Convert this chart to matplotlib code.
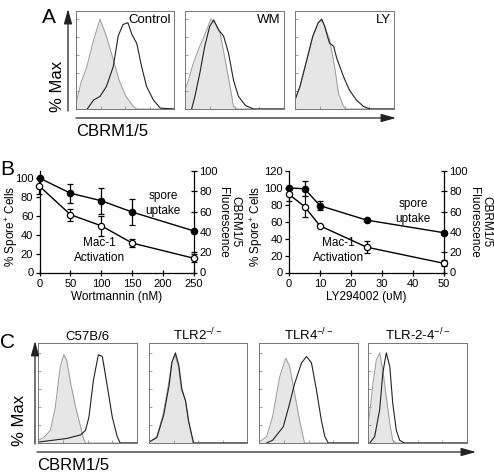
import matplotlib.pyplot as plt

plt.rcParams['font.family'] = ['Liberation Sans', 'DejaVu Sans']
plt.rcParams['mathtext.fontset'] = 'custom'
plt.rcParams['mathtext.rm'] = 'Liberation Sans'
plt.rcParams['mathtext.it'] = 'Liberation Sans:italic'
plt.rcParams['mathtext.bf'] = 'Liberation Sans:bold'

W, H = 494, 476

# --- panel A: histograms (x = fraction of plot width, y = % of max) ---
ctrl_iso_x = [0, .05, .11, .18, .245, .31, .38, .44, .51, .585, .62, 1]
ctrl_iso_y = [6, 29, 47, 77, 100, 81, 55, 32, 14, 3, 0, 0]
ctrl_cbr_x = [.115, .18, .245, .31, .38, .43, .48, .53, .57, .62, .67, .72, .79, .86, 1]
ctrl_cbr_y = [0, 10, 14, 25, 47, 81, 94, 96, 83, 73, 47, 25, 10, 1, 0]
wm_iso_x = [0, .034, .084, .15, .22, .26, .30, .355, .40, .455, .49, .52, 1]
wm_iso_y = [21, 32, 51, 70, 88, 100, 96, 84, 58, 25, 3, 0, 0]
wm_cbr_x = [.067, .10, .15, .20, .25, .29, .34, .39, .44, .49, .54, .61, .69, 1]
wm_cbr_y = [0, 14, 40, 70, 92, 99, 88, 81, 62, 32, 14, 4, 0, 0]
ly_iso_x = [0, .05, .12, .18, .235, .27, .30, .35, .40, .44, .49, .52, 1]
ly_iso_y = [10, 25, 55, 81, 96, 99, 92, 77, 47, 17, 3, 0, 0]
ly_cbr_x = [0, .05, .12, .18, .235, .27, .30, .33, .35, .39, .42, .49, .55, .62, .69, .755, 1]
ly_cbr_y = [10, 25, 55, 81, 96, 100, 92, 80, 73, 70, 57, 36, 21, 10, 3, 0, 0]
a_titles = ['Control', 'WM', 'LY']

# --- panel B: dose responses ---
wm_dose = [0, 50, 100, 150, 250]
wm_spore = [100, 84, 76, 64, 44]
wm_spore_err = [0, 10, 14, 14, 0]
wm_mac1 = [85, 57, 46, 29, 14]
wm_mac1_err = [8, 6, 10, 4, 4]
ly_dose = [0, 5, 10, 25, 50]
ly_spore = [100, 99, 79, 62, 47]
ly_spore_err = [0, 9, 5, 0, 0]
ly_mac1 = [77, 65, 46, 25, 9]
ly_mac1_err = [7, 10, 0, 6, 3]

# --- panel C: histograms ---
b6_iso_x = [0, .057, .125, .175, .225, .26, .29, .33, .38, .43, .46, .48, 1]
b6_iso_y = [3, 6, 14, 40, 85, 98, 92, 66, 40, 18, 5, 0, 0]
b6_cbr_x = [0, .29, .43, .48, .515, .56, .61, .65, .70, .75, .80, .83, 1]
b6_cbr_y = [1, 5, 9, 14, 29, 70, 98, 96, 63, 29, 7, 0, 0]
tlr2_iso_x = [0, .08, .146, .20, .23, .265, .30, .33, .37, .40, .45, 1]
tlr2_iso_y = [1, 7, 33, 66, 89, 98, 85, 59, 48, 25, 0, 0]
tlr2_cbr_x = [0, .08, .15, .205, .235, .27, .305, .335, .375, .405, .455, 1]
tlr2_cbr_y = [1, 6, 31, 64, 90, 100, 86, 60, 46, 24, 0, 0]
tlr4_iso_x = [0, .077, .137, .21, .27, .31, .36, .41, .46, 1]
tlr4_iso_y = [1, 7, 29, 74, 94, 85, 55, 25, 0, 0]
tlr4_cbr_x = [.077, .137, .245, .31, .36, .43, .48, .53, .58, .63, .665, .70, 1]
tlr4_cbr_y = [0, 3, 18, 44, 66, 89, 96, 89, 59, 25, 7, 0, 0]
tlr24_iso_x = [0, .017, .05, .084, .118, .15, .185, .22, .25, .286, 1]
tlr24_iso_y = [22, 33, 66, 92, 100, 81, 51, 22, 3, 0, 0]
tlr24_cbr_x = [.017, .067, .118, .15, .185, .22, .25, .286, .32, .37, 1]
tlr24_cbr_y = [0, 7, 37, 78, 100, 85, 44, 14, 3, 0, 0]
c_titles = ['C57B/6', r'TLR2$^{\mathregular{-/-}}$', r'TLR4$^{\mathregular{-/-}}$',
            r'TLR-2-4$^{\mathregular{-/-}}$']

fig = plt.figure(figsize=(W / 100, H / 100), dpi=100)


def px_axes(x0, y0, x1, y1):
    return fig.add_axes([x0 / W, 1 - y1 / H, (x1 - x0) / W, (y1 - y0) / H])


def fx(x):
    return x / W


def fy(y):
    return 1 - y / H


def arrow(x0, y0, x1, y1):
    fig.add_artist(plt.Annotation('', xy=(fx(x1), fy(y1)), xytext=(fx(x0), fy(y0)),
                                  xycoords='figure fraction',
                                  arrowprops=dict(arrowstyle='-|>,head_length=0.9,head_width=0.25',
                                                  color='#222', lw=0.9, shrinkA=0, shrinkB=0)))


def hist_box(ax, iso_x, iso_y, cbr_x, cbr_y, top=109):
    ax.fill_between(iso_x, iso_y, color='#e6e6e6', lw=0)
    ax.plot(iso_x, iso_y, color='#999999', lw=0.7)
    ax.plot(cbr_x, cbr_y, color='#222222', lw=0.8)
    ax.set_xlim(0, 1)
    ax.set_ylim(0, top)
    for s in ax.spines.values():
        s.set_color('#777777')
        s.set_linewidth(0.7)
    ax.set_yticks([0, 20, 40, 60, 80, 100])
    ax.set_xticks([0, .25, .5, .75, 1])
    ax.tick_params(direction='in', length=2, width=0.5, color='#777777',
                   labelleft=False, labelbottom=False)


# ---------- panel A ----------
a_boxes = [(76, 174), (185, 284), (295, 394)]
a_data = [(ctrl_iso_x, ctrl_iso_y, ctrl_cbr_x, ctrl_cbr_y),
          (wm_iso_x, wm_iso_y, wm_cbr_x, wm_cbr_y),
          (ly_iso_x, ly_iso_y, ly_cbr_x, ly_cbr_y)]
for (x0, x1), d, t in zip(a_boxes, a_data, a_titles):
    ax = px_axes(x0, 11, x1, 109)
    hist_box(ax, *d)
    ax.text(0.97, 0.97, t, transform=ax.transAxes, ha='right', va='top', fontsize=9.5)
fig.text(fx(42), fy(8), 'A', fontsize=15, va='top')
arrow(68, 111, 68, 9)
arrow(76, 118, 396, 118)
fig.text(fx(57), fy(86), '% Max', rotation=90, fontsize=12, ha='center', va='center')
fig.text(fx(76), fy(124), 'CBRM1/5', fontsize=12, va='top')

# ---------- panel B ----------
fig.text(fx(0), fy(160), 'B', fontsize=15, va='top')


def dose_panel(x0, x1, dose, spore, spore_err, mac1, mac1_err, ytop, yticks, xticks, xlabel,
               sp_pos, mac_pos, ylab_x, rlab_x):
    ax = px_axes(x0, 171, x1, 272.5)
    ax2 = ax.twinx()
    ax.errorbar(dose, spore, yerr=spore_err, color='black', lw=1, marker='o', ms=4.5,
                mfc='black', capsize=2.5, elinewidth=0.9, capthick=0.9, clip_on=False, zorder=3)
    ax2.errorbar(dose, mac1, yerr=mac1_err, color='black', lw=1, marker='o', ms=4.5,
                 mfc='white', mew=0.9, capsize=2.5, elinewidth=0.9, capthick=0.9,
                 clip_on=False, zorder=3)
    ax.set_xlim(dose[0], dose[-1])
    ax.set_ylim(0, ytop)
    ax2.set_ylim(0, 100)
    ax.set_yticks(yticks)
    ax2.set_yticks([0, 20, 40, 60, 80, 100])
    ax.set_xticks(xticks)
    for a in (ax, ax2):
        a.spines['top'].set_visible(False)
        for s in a.spines.values():
            s.set_linewidth(0.9)
    ax.spines['right'].set_visible(False)
    ax2.spines['left'].set_visible(False)
    ax2.spines['bottom'].set_visible(False)
    ax.tick_params(axis='y', length=3, width=0.9, labelsize=8, pad=1.5)
    ax.tick_params(axis='x', direction='inout', length=5, width=0.9, labelsize=8, pad=2.5)
    ax2.tick_params(direction='inout', length=5, width=0.9, labelsize=8, pad=1.5)
    ax.set_xlabel(xlabel, fontsize=8.5, labelpad=1)
    fig.text(fx(ylab_x), fy(226), '% Spore$^{+}$ Cells', fontsize=8.5, rotation=90,
             ha='center', va='center')
    fig.text(fx(rlab_x), fy(222), 'CBRM1/5\nFluorescence', fontsize=8.5, rotation=270,
             ha='center', va='center', multialignment='center', linespacing=1.05)
    ax.text(sp_pos[0], sp_pos[1], 'spore\nuptake', transform=ax.transAxes, fontsize=8.5,
            ha='center', va='center', linespacing=1.3)
    ax.text(mac_pos[0], mac_pos[1], 'Mac-1\nActivation', transform=ax.transAxes,
            fontsize=8.5, ha='center', va='center', linespacing=1.3)


dose_panel(39.5, 194, wm_dose, wm_spore, wm_spore_err, wm_mac1, wm_mac1_err, 107.5,
           [0, 20, 40, 60, 80, 100], [0, 50, 100, 150, 200, 250], 'Wortmannin (nM)',
           (0.8, 0.68), (0.39, 0.22), 12, 229)
dose_panel(289, 444, ly_dose, ly_spore, ly_spore_err, ly_mac1, ly_mac1_err, 120,
           [0, 20, 40, 60, 80, 100, 120], [0, 10, 20, 30, 40, 50], 'LY294002 (\u03c5M)',
           (0.8, 0.6), (0.32, 0.22), 257, 480)

# ---------- panel C ----------
c_boxes = [(38, 137), (149, 247), (259, 358), (368, 467)]
c_data = [(b6_iso_x, b6_iso_y, b6_cbr_x, b6_cbr_y),
          (tlr2_iso_x, tlr2_iso_y, tlr2_cbr_x, tlr2_cbr_y),
          (tlr4_iso_x, tlr4_iso_y, tlr4_cbr_x, tlr4_cbr_y),
          (tlr24_iso_x, tlr24_iso_y, tlr24_cbr_x, tlr24_cbr_y)]
for (x0, x1), d, t in zip(c_boxes, c_data, c_titles):
    ax = px_axes(x0, 343, x1, 443)
    hist_box(ax, *d, top=111)
    ax.set_title(t, fontsize=9.5, pad=1)
fig.text(fx(0), fy(333), 'C', fontsize=15, va='top')
arrow(35, 444, 35, 341)
arrow(37, 452, 476, 452)
fig.text(fx(20), fy(420), '% Max', rotation=90, fontsize=12, ha='center', va='center')
fig.text(fx(37), fy(458), 'CBRM1/5', fontsize=12, va='top')

fig.savefig('out.png', dpi=100)
